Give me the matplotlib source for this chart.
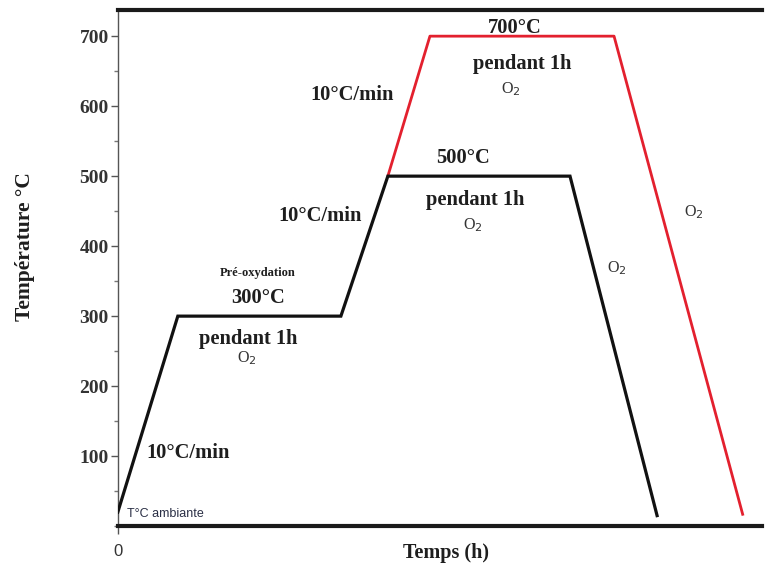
import matplotlib
matplotlib.use("Agg")
import matplotlib.pyplot as plt
from matplotlib.ticker import MultipleLocator

# Heat-treatment profiles: time (h) vs temperature (°C)
t_500 = [0.0, 0.368, 1.368, 1.656, 2.773, 3.307]
T_500 = [20, 300, 300, 500, 500, 15]

t_700 = [1.656, 1.914, 3.043, 3.834]
T_700 = [500, 700, 700, 15]

y_ticks = [100, 200, 300, 400, 500, 600, 700]
x_ticks = [0]

SERIF = "Liberation Serif"
SANS = "Liberation Sans"
TXT = "#1e1e1e"

fig = plt.figure(figsize=(7.65, 5.70), dpi=100)
ax = fig.add_axes([0.154, 0.077, 0.842, 0.905])

ax.plot(t_700, T_700, color="#e3202e", lw=2.0, solid_capstyle="butt", zorder=2)
ax.plot(t_500, T_500, color="#111111", lw=2.3, solid_joinstyle="miter", zorder=3)

ax.set_xlim(0, 3.95)
ax.set_ylim(0, 737)

ax.spines["right"].set_visible(False)
ax.spines["top"].set_linewidth(3)
ax.spines["bottom"].set_linewidth(3)
ax.spines["left"].set_linewidth(1.0)
ax.spines["left"].set_color("#555555")
for s in ("top", "bottom"):
    ax.spines[s].set_color("#1a1a1a")

ax.set_yticks(y_ticks)
ax.yaxis.set_minor_locator(MultipleLocator(50))
ax.set_xticks(x_ticks)
ax.tick_params(axis="y", which="major", length=5, width=1, color="#555555", pad=1.5)
ax.tick_params(axis="y", which="minor", length=3, width=1, color="#777777")
ax.tick_params(axis="x", which="major", length=6, width=1, color="#555555", pad=7)
for lab in ax.get_yticklabels():
    lab.set_fontfamily(SERIF)
    lab.set_fontweight("bold")
    lab.set_fontsize(14)
    lab.set_color("#333333")
for lab in ax.get_xticklabels():
    lab.set_fontfamily(SANS)
    lab.set_fontsize(12)
    lab.set_color("#333333")

fig.text(25 / 765, 1 - 247 / 570, "Température °C", family=SERIF,
         fontweight="bold", fontsize=15.5, color=TXT, rotation=90,
         ha="center", va="center")
fig.text(446 / 765, 1 - 553 / 570, "Temps (h)", family=SERIF,
         fontweight="bold", fontsize=14.5, color=TXT, ha="center", va="center")

def bold(x, y, s, size=14.8):
    ax.text(x, y, s, family=SERIF, fontweight="bold", fontsize=size,
            color=TXT, ha="center", va="center")

def o2(x, y):
    ax.text(x, y, "O$_2$", family=SERIF, fontsize=11.5, color="#333333",
            ha="center", va="center")

# Ramp rates
bold(0.43, 104, "10°C/min")
bold(1.24, 443, "10°C/min")
bold(1.435, 616, "10°C/min")

# Pre-oxidation plateau
bold(0.86, 362, "Pré-oxydation", size=9)
bold(0.86, 326, "300°C")
bold(0.80, 268, "pendant 1h")
o2(0.79, 240)

# 500 °C plateau
bold(2.117, 526, "500°C")
bold(2.19, 466, "pendant 1h")
o2(2.178, 430)

# 700 °C plateau
bold(2.435, 711, "700°C")
bold(2.48, 660, "pendant 1h")
o2(2.41, 625)

# Cooling atmosphere
o2(3.06, 368)
o2(3.53, 449)

ax.text(0.055, 17, "T°C ambiante", family=SANS, fontsize=9, color="#2a2f45",
        ha="left", va="center")

fig.savefig("out.png", dpi=100, facecolor="white")
